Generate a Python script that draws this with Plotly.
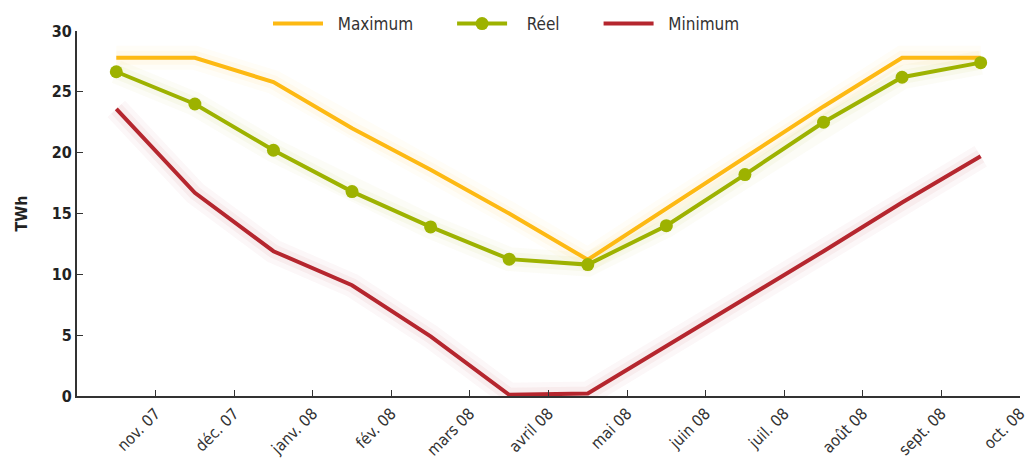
import plotly.graph_objects as go

months = ["nov. 07", "déc. 07", "janv. 08", "fév. 08", "mars 08", "avril 08",
          "mai 08", "juin 08", "juil. 08", "août 08", "sept. 08", "oct. 08"]
maximum = [27.8, 27.8, 25.8, 22.0, 18.6, 15.0, 11.2, 15.4, 19.6, 23.8, 27.8, 27.8]
reel = [26.65, 24.0, 20.2, 16.8, 13.9, 11.25, 10.8, 14.0, 18.2, 22.5, 26.2, 27.4]
minimum = [23.6, 16.7, 11.9, 9.1, 4.9, 0.1, 0.2, 4.1, 7.95, 11.9, 15.9, 19.7]
y_ticks = [0, 5, 10, 15, 20, 25, 30]

# categories occupy slots; points at slot centres, labels at slot right edges
xpos = [i + 0.5 for i in range(len(months))]
tickpos = [i + 1 for i in range(len(months))]

c_max = "#FDB913"
c_reel = "#9DB200"
c_min = "#B5262E"

def rgba(hexc, a):
    h = hexc.lstrip("#")
    r, g, b = int(h[0:2], 16), int(h[2:4], 16), int(h[4:6], 16)
    return f"rgba({r},{g},{b},{a})"

fig = go.Figure()

# soft glow under the lines
for vals, col in [(maximum, c_max), (reel, c_reel), (minimum, c_min)]:
    for w, a in [(24, 0.035), (14, 0.05)]:
        fig.add_trace(go.Scatter(x=xpos, y=vals, mode="lines",
                                 line=dict(color=rgba(col, a), width=w),
                                 hoverinfo="skip", showlegend=False))

NB = "\u00a0"
fig.add_trace(go.Scatter(x=xpos, y=maximum, mode="lines", name=NB * 2 + "Maximum" + NB * 7,
                         line=dict(color=c_max, width=4)))
fig.add_trace(go.Scatter(x=xpos, y=reel, mode="lines+markers", name=NB * 3 + "Réel" + NB * 7,
                         line=dict(color=c_reel, width=4),
                         marker=dict(color=c_reel, size=13)))
fig.add_trace(go.Scatter(x=xpos, y=minimum, mode="lines", name=NB * 2 + "Minimum",
                         line=dict(color=c_min, width=4)))

font_family = "DejaVu Sans Condensed, Liberation Sans Narrow, sans-serif"

fig.update_layout(
    template="none",
    width=1028, height=459,
    margin=dict(l=77, r=8, t=31, b=63, autoexpand=False),
    paper_bgcolor="white", plot_bgcolor="white",
    font=dict(family=font_family, color="#333333", size=15),
    showlegend=True,
    legend=dict(orientation="h",
                x=(268 - 77) / 943, xanchor="left", y=(396 - 24) / 365, yanchor="middle",
                font=dict(size=17, color="#333333"),
                itemwidth=50,
                bgcolor="rgba(0,0,0,0)"),
    xaxis=dict(range=[0, 12.0005], tickmode="array", tickvals=tickpos, ticktext=months,
               tickangle=-45, ticks="inside", ticklen=6, tickcolor="#333333",
               showline=True, linecolor="#333333", linewidth=2,
               showgrid=False, zeroline=False, automargin=False,
               ticklabeloverflow="allow",
               tickfont=dict(size=16, color="#333333")),
    yaxis=dict(range=[0, 30], tickmode="array", tickvals=y_ticks,
               ticks="inside", ticklen=6, tickcolor="#333333",
               showline=True, linecolor="#333333", linewidth=2,
               showgrid=False, zeroline=False, automargin=False,
               tickfont=dict(size=16, color="#222222", weight="bold"),
               title=dict(text="<b>TWh</b>", font=dict(size=16, color="#222222"), standoff=20)),
)

fig.write_html("out.html")
